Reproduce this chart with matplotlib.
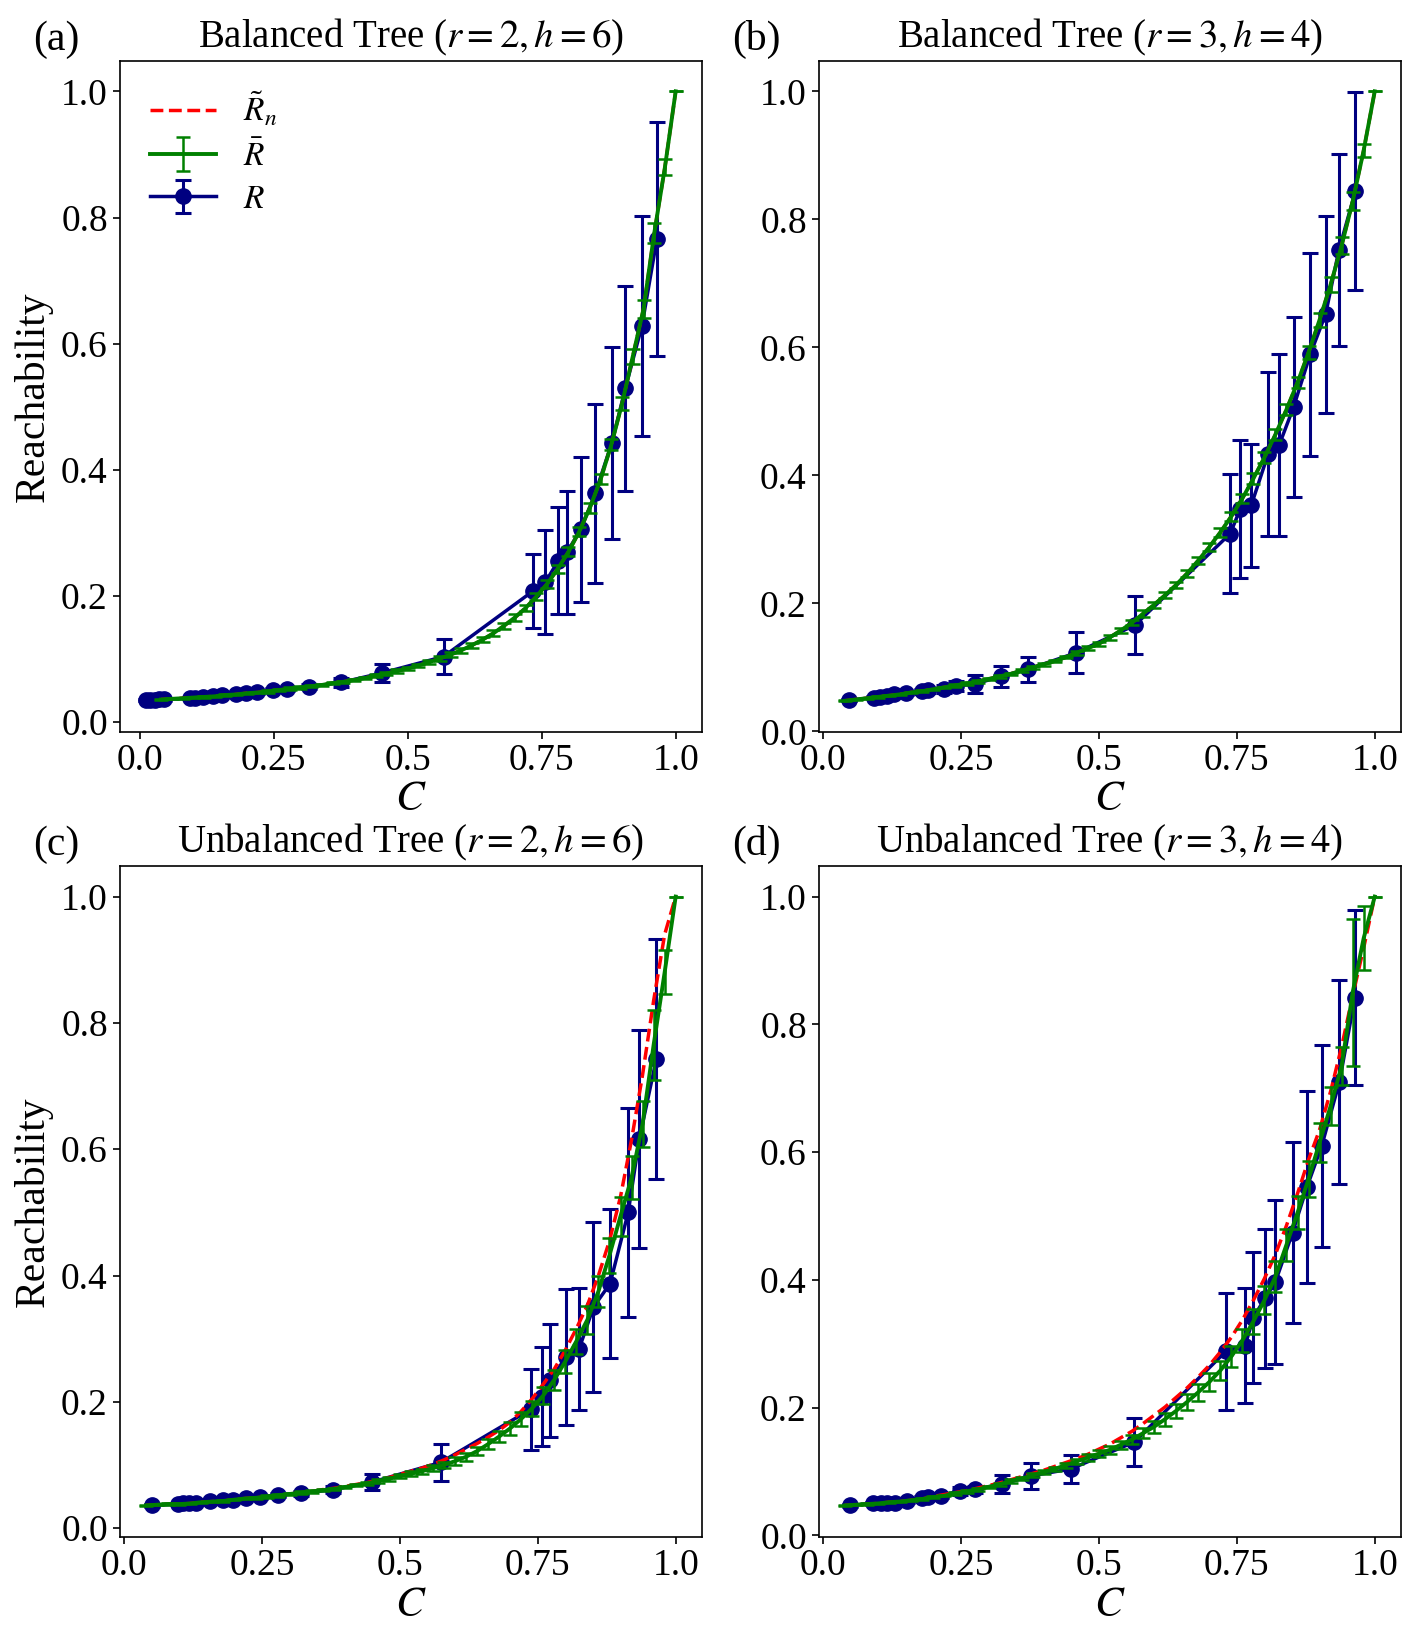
import matplotlib
matplotlib.use("Agg")
import matplotlib.pyplot as plt

# Times-like fonts for text and math
plt.rcParams["font.family"] = ["Liberation Serif", "DejaVu Serif"]
plt.rcParams["mathtext.fontset"] = "stix"

# ---- data ----
XTICKS = [0.0, 0.25, 0.5, 0.75, 1.0]
XTICK_LABELS = ["0.0", "0.25", "0.5", "0.75", "1.0"]

TITLES = [
    r"Balanced Tree ($r=2, h=6$)",
    r"Balanced Tree ($r=3, h=4$)",
    r"Unbalanced Tree ($r=2, h=6$)",
    r"Unbalanced Tree ($r=3, h=4$)",
]
PANEL_TAGS = ["(a)", "(b)", "(c)", "(d)"]

# C grid for the averaged curve (R bar) and the analytic curve (R tilde)
C_GRID = [0.04, 0.06, 0.08, 0.10, 0.12, 0.14, 0.16, 0.18, 0.20, 0.22,
          0.24, 0.26, 0.28, 0.30, 0.32, 0.34, 0.36, 0.38, 0.40, 0.42,
          0.44, 0.46, 0.48, 0.50, 0.52, 0.54, 0.56, 0.58, 0.60, 0.62,
          0.64, 0.66, 0.68, 0.70, 0.72, 0.74, 0.76, 0.78, 0.80, 0.82,
          0.84, 0.86, 0.88, 0.90, 0.92, 0.94, 0.96, 0.98, 1.00]

# (a) balanced r=2 h=6
rbar_a = [0.036, 0.037, 0.038, 0.039, 0.040, 0.041, 0.043, 0.044, 0.046, 0.047,
          0.049, 0.051, 0.053, 0.055, 0.057, 0.059, 0.062, 0.064, 0.067, 0.070,
          0.074, 0.077, 0.081, 0.085, 0.090, 0.095, 0.101, 0.107, 0.114, 0.122,
          0.131, 0.141, 0.153, 0.166, 0.181, 0.199, 0.219, 0.243, 0.270, 0.302,
          0.340, 0.385, 0.440, 0.505, 0.580, 0.655, 0.775, 0.880, 1.000]
rbar_err_a = [0.001] * 10 + [0.002] * 10 + \
    [0.002, 0.002, 0.003, 0.003, 0.003, 0.003, 0.004, 0.004, 0.004, 0.004,
     0.004, 0.005, 0.005, 0.005, 0.005, 0.006, 0.006, 0.006, 0.007, 0.007,
     0.008, 0.008, 0.009, 0.010, 0.012, 0.014, 0.016, 0.012, 0.0]
rt_a = rbar_a  # analytic curve lies under the green one
c_a = [0.012, 0.020, 0.028, 0.036, 0.046, 0.093, 0.104, 0.118, 0.136, 0.154,
       0.179, 0.198, 0.219, 0.249, 0.274, 0.316, 0.376, 0.452, 0.567, 0.734,
       0.757, 0.781, 0.797, 0.823, 0.850, 0.881, 0.906, 0.937, 0.965]
r_a = [0.035, 0.035, 0.035, 0.036, 0.036, 0.038, 0.039, 0.040, 0.041, 0.043,
       0.045, 0.046, 0.048, 0.051, 0.053, 0.056, 0.063, 0.078, 0.104, 0.208,
       0.222, 0.256, 0.269, 0.306, 0.363, 0.443, 0.529, 0.628, 0.766]
r_err_a = [0.002, 0.002, 0.002, 0.002, 0.002, 0.002, 0.002, 0.002, 0.002, 0.002,
           0.002, 0.002, 0.003, 0.003, 0.003, 0.004, 0.007, 0.015, 0.028, 0.059,
           0.082, 0.085, 0.097, 0.115, 0.142, 0.152, 0.163, 0.175, 0.185]

# (b) balanced r=3 h=4
rbar_b = [0.048, 0.050, 0.052, 0.054, 0.056, 0.058, 0.061, 0.063, 0.066, 0.069,
          0.072, 0.075, 0.078, 0.082, 0.086, 0.090, 0.095, 0.100, 0.105, 0.110,
          0.116, 0.123, 0.130, 0.137, 0.147, 0.158, 0.170, 0.184, 0.198, 0.213,
          0.229, 0.247, 0.267, 0.288, 0.311, 0.336, 0.364, 0.395, 0.428, 0.464,
          0.503, 0.545, 0.592, 0.643, 0.698, 0.759, 0.828, 0.908, 1.000]
rbar_err_b = [0.001] * 10 + [0.002] * 10 + \
    [0.002, 0.003, 0.003, 0.003, 0.004, 0.004, 0.004, 0.005, 0.005, 0.005,
     0.005, 0.006, 0.006, 0.006, 0.007, 0.007, 0.007, 0.008, 0.008, 0.008,
     0.009, 0.009, 0.010, 0.011, 0.012, 0.013, 0.014, 0.010, 0.0]
rt_b = rbar_b
c_b = [0.047, 0.092, 0.104, 0.115, 0.129, 0.151, 0.180, 0.191, 0.219, 0.241,
       0.275, 0.322, 0.371, 0.459, 0.565, 0.738, 0.756, 0.776, 0.807, 0.827,
       0.853, 0.883, 0.911, 0.935, 0.965]
r_b = [0.049, 0.053, 0.054, 0.056, 0.058, 0.060, 0.063, 0.064, 0.066, 0.071,
       0.074, 0.086, 0.097, 0.123, 0.166, 0.309, 0.347, 0.353, 0.434, 0.448,
       0.507, 0.589, 0.652, 0.752, 0.844]
r_err_b = [0.002, 0.002, 0.002, 0.003, 0.003, 0.003, 0.004, 0.004, 0.006, 0.008,
           0.014, 0.016, 0.019, 0.032, 0.045, 0.093, 0.108, 0.096, 0.128, 0.142,
           0.140, 0.159, 0.154, 0.150, 0.155]

# (c) unbalanced r=2 h=6
rbar_c = [0.036, 0.037, 0.038, 0.038, 0.039, 0.041, 0.042, 0.043, 0.045, 0.047,
          0.048, 0.050, 0.052, 0.054, 0.056, 0.058, 0.060, 0.062, 0.065, 0.068,
          0.071, 0.074, 0.078, 0.082, 0.086, 0.090, 0.095, 0.100, 0.106, 0.113,
          0.122, 0.133, 0.145, 0.158, 0.173, 0.190, 0.210, 0.235, 0.264, 0.296,
          0.330, 0.375, 0.432, 0.494, 0.555, 0.640, 0.765, 0.880, 1.000]
rbar_err_c = [0.001] * 10 + [0.002] * 10 + \
    [0.002, 0.003, 0.003, 0.003, 0.004, 0.004, 0.005, 0.005, 0.006, 0.006,
     0.007, 0.008, 0.009, 0.010, 0.011, 0.012, 0.014, 0.016, 0.018, 0.020,
     0.022, 0.025, 0.028, 0.031, 0.034, 0.037, 0.055, 0.035, 0.0]
rt_c = [0.036, 0.037, 0.038, 0.038, 0.039, 0.041, 0.042, 0.043, 0.045, 0.047,
        0.048, 0.050, 0.052, 0.054, 0.056, 0.058, 0.061, 0.063, 0.066, 0.069,
        0.072, 0.076, 0.080, 0.085, 0.090, 0.095, 0.101, 0.108, 0.116, 0.125,
        0.134, 0.144, 0.155, 0.168, 0.185, 0.205, 0.228, 0.252, 0.282, 0.316,
        0.353, 0.400, 0.455, 0.525, 0.615, 0.718, 0.835, 0.940, 1.000]
c_c = [0.050, 0.097, 0.106, 0.118, 0.131, 0.156, 0.180, 0.197, 0.221, 0.247,
       0.280, 0.320, 0.379, 0.450, 0.574, 0.737, 0.758, 0.773, 0.801, 0.825,
       0.851, 0.881, 0.914, 0.934, 0.965]
r_c = [0.036, 0.038, 0.039, 0.039, 0.040, 0.043, 0.044, 0.045, 0.048, 0.049,
       0.053, 0.055, 0.061, 0.073, 0.104, 0.188, 0.208, 0.234, 0.271, 0.284,
       0.350, 0.387, 0.500, 0.616, 0.743]
r_err_c = [0.002, 0.002, 0.002, 0.002, 0.002, 0.002, 0.002, 0.002, 0.003, 0.003,
           0.003, 0.004, 0.006, 0.013, 0.029, 0.064, 0.078, 0.089, 0.107, 0.097,
           0.135, 0.118, 0.166, 0.172, 0.190]

# (d) unbalanced r=3 h=4
rbar_d = [0.047, 0.048, 0.049, 0.050, 0.052, 0.053, 0.055, 0.057, 0.060, 0.062,
          0.066, 0.069, 0.072, 0.076, 0.080, 0.085, 0.089, 0.094, 0.099, 0.104,
          0.110, 0.116, 0.122, 0.128, 0.134, 0.142, 0.150, 0.160, 0.170, 0.182,
          0.195, 0.209, 0.224, 0.240, 0.258, 0.280, 0.305, 0.335, 0.368, 0.405,
          0.455, 0.505, 0.558, 0.615, 0.672, 0.735, 0.850, 0.935, 1.000]
rbar_err_d = [0.001] * 10 + [0.002] * 5 + [0.003] * 5 + \
    [0.004, 0.004, 0.005, 0.005, 0.006, 0.006, 0.007, 0.008, 0.009, 0.010,
     0.011, 0.012, 0.013, 0.014, 0.015, 0.016, 0.018, 0.020, 0.022, 0.024,
     0.025, 0.026, 0.028, 0.030, 0.030, 0.030, 0.115, 0.050, 0.0]
rt_d = [0.047, 0.048, 0.049, 0.050, 0.052, 0.053, 0.055, 0.057, 0.061, 0.064,
        0.067, 0.070, 0.074, 0.078, 0.082, 0.087, 0.092, 0.097, 0.102, 0.108,
        0.114, 0.120, 0.127, 0.135, 0.143, 0.153, 0.163, 0.175, 0.188, 0.201,
        0.216, 0.231, 0.248, 0.266, 0.287, 0.310, 0.337, 0.368, 0.402, 0.440,
        0.485, 0.535, 0.588, 0.635, 0.695, 0.765, 0.845, 0.920, 1.000]
c_d = [0.049, 0.091, 0.105, 0.116, 0.130, 0.152, 0.179, 0.191, 0.213, 0.249,
       0.276, 0.324, 0.376, 0.449, 0.564, 0.730, 0.765, 0.780, 0.801, 0.820,
       0.851, 0.877, 0.904, 0.936, 0.964]
r_d = [0.047, 0.050, 0.050, 0.051, 0.051, 0.054, 0.059, 0.060, 0.062, 0.070,
       0.072, 0.080, 0.093, 0.104, 0.146, 0.288, 0.297, 0.341, 0.371, 0.397,
       0.474, 0.545, 0.610, 0.710, 0.842]
r_err_d = [0.002, 0.002, 0.002, 0.002, 0.002, 0.003, 0.003, 0.003, 0.004, 0.006,
           0.006, 0.014, 0.020, 0.022, 0.037, 0.091, 0.090, 0.103, 0.109, 0.128,
           0.142, 0.150, 0.158, 0.160, 0.137]

PANELS = [
    (c_a, r_a, r_err_a, rbar_a, rbar_err_a, rt_a),
    (c_b, r_b, r_err_b, rbar_b, rbar_err_b, rt_b),
    (c_c, r_c, r_err_c, rbar_c, rbar_err_c, rt_c),
    (c_d, r_d, r_err_d, rbar_d, rbar_err_d, rt_d),
]

# ---- figure ----
fig, axes = plt.subplots(2, 2, figsize=(14.24, 16.44), dpi=100)
fig.subplots_adjust(left=0.084, right=0.984, top=0.963, bottom=0.065,
                    wspace=0.2, hspace=0.2)

FS_TICK = 27
FS_TEXT = 29

for i, ax in enumerate(axes.flat):
    c, r, r_err, rbar, rbar_err, rt = PANELS[i]

    # measured reachability R
    eb_r = ax.errorbar(c, r, yerr=r_err, fmt="o-", color="navy",
                       markersize=11, linewidth=2.5, elinewidth=2.2,
                       capsize=6, capthick=2.2, zorder=2)
    # analytic R tilde
    (ln_rt,) = ax.plot(C_GRID, rt, "--", color="red", linewidth=2.5, zorder=3)
    # averaged R bar
    eb_rbar = ax.errorbar(C_GRID, rbar, yerr=rbar_err, fmt="-", color="green",
                          linewidth=2.8, elinewidth=1.8,
                          capsize=5, capthick=1.8, zorder=4)

    ax.set_xticks(XTICKS)
    ax.set_xticklabels(XTICK_LABELS)
    ax.tick_params(labelsize=FS_TICK, length=5, width=1.2)
    for sp in ax.spines.values():
        sp.set_linewidth(1.2)

    ax.set_xlabel(r"$C$", fontsize=FS_TEXT + 2, labelpad=2)
    if i % 2 == 0:
        ax.set_ylabel("Reachability", fontsize=FS_TEXT + 1, labelpad=6)
    ax.set_title(TITLES[i], fontsize=FS_TEXT - 1, pad=10)
    ax.text(-0.148, 1.016, PANEL_TAGS[i], transform=ax.transAxes,
            fontsize=FS_TEXT + 1, ha="left", va="baseline")

    if i == 0:
        ax.legend([ln_rt, eb_rbar, eb_r],
                  [r"$\tilde{R}_n$", r"$\bar{R}$", r"$R$"],
                  loc="upper left", frameon=False, fontsize=FS_TICK - 3,
                  handlelength=2.0, labelspacing=0.35)

fig.savefig("out.png", dpi=100)
